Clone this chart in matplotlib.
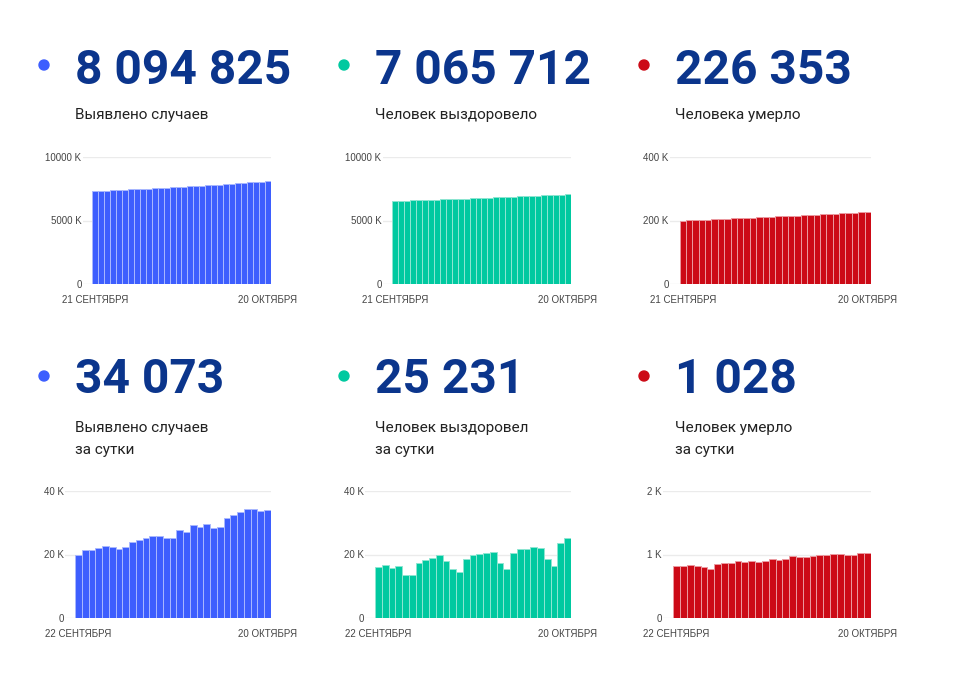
import matplotlib

matplotlib.use("Agg")
import matplotlib.pyplot as plt
from matplotlib.patches import Ellipse

plt.rcParams["font.family"] = ["Roboto", "DejaVu Sans"]

W, H = 967, 675

# headline figures
totals = ["8 094 825", "7 065 712", "226 353"]
daily = ["34 073", "25 231", "1 028"]
total_captions = ["Выявлено случаев", "Человек выздоровело", "Человека умерло"]
daily_captions = ["Выявлено случаев\nза сутки", "Человек выздоровел\nза сутки",
                  "Человек умерло\nза сутки"]

# cumulative, 21 Sep .. 20 Oct (thousands)
cases_total = [7312, 7332, 7353, 7375, 7397, 7419, 7442, 7463, 7486, 7510,
               7534, 7560, 7586, 7611, 7637, 7662, 7689, 7717, 7746, 7775,
               7804, 7833, 7861, 7893, 7925, 7958, 7993, 8027, 8061, 8095]
recovered_total = [6527, 6543, 6559, 6575, 6591, 6605, 6619, 6636, 6654, 6673,
                   6693, 6711, 6726, 6741, 6759, 6779, 6799, 6820, 6841, 6858,
                   6874, 6894, 6916, 6938, 6960, 6982, 7001, 7017, 7041, 7066]
deaths_total = [199.7, 200.6, 201.4, 202.2, 203.0, 203.8, 204.6, 205.5, 206.3, 207.2,
                208.1, 209.0, 209.9, 210.8, 211.7, 212.6, 213.5, 214.4, 215.4, 216.4,
                217.3, 218.3, 219.3, 220.3, 221.3, 222.3, 223.3, 224.3, 225.3, 226.4]

# daily, 22 Sep .. 20 Oct (thousands)
cases_daily = [19.8, 21.4, 21.4, 22.1, 22.6, 22.3, 21.6, 22.5, 24.0, 24.6,
               25.3, 25.9, 25.9, 25.2, 25.2, 27.6, 27.2, 29.4, 28.7, 29.5,
               28.3, 28.8, 31.4, 32.3, 33.3, 34.3, 34.3, 33.8, 34.1]
recovered_daily = [16.1, 16.6, 15.8, 16.3, 13.7, 13.5, 17.4, 18.4, 18.8, 19.9,
                   17.8, 15.4, 14.6, 18.5, 19.8, 20.3, 20.5, 20.9, 17.3, 15.5,
                   20.6, 21.8, 21.7, 22.3, 21.9, 18.7, 16.4, 23.5, 25.2]
deaths_daily = [0.822, 0.822, 0.838, 0.822, 0.801, 0.775, 0.853, 0.864, 0.869, 0.890,
                0.885, 0.895, 0.885, 0.895, 0.927, 0.921, 0.937, 0.974, 0.963, 0.958,
                0.974, 0.990, 0.990, 1.005, 1.005, 1.000, 1.000, 1.021, 1.028]

total_ticks = [[0, 5000, 10000], [0, 5000, 10000], [0, 200, 400]]
total_ticklabels = [["0", "5000 K", "10000 K"], ["0", "5000 K", "10000 K"],
                    ["0", "200 K", "400 K"]]
daily_ticks = [[0, 20, 40], [0, 20, 40], [0, 1, 2]]
daily_ticklabels = [["0", "20 K", "40 K"], ["0", "20 K", "40 K"], ["0", "1 K", "2 K"]]
total_dates = ["21 СЕНТЯБРЯ", "20 ОКТЯБРЯ"]
daily_dates = ["22 СЕНТЯБРЯ", "20 ОКТЯБРЯ"]

colors = ["#3d5efe", "#00c9a0", "#cc0a16"]
edge_colors = ["#a9b8ff", "#8ee6d2", "#eb9aa0"]
num_color = "#0b358c"

fig = plt.figure(figsize=(W / 100, H / 100), dpi=100)


def px(x, y):
    return x / W, 1 - y / H


def dot(x, y, color):
    fig.patches.append(Ellipse(px(x, y), 10 / W, 10 / H, transform=fig.transFigure,
                               color=color))


def bar_panel(left, right, top, bottom, values, ticks, ticklabels, dates, color, edge):
    ax = fig.add_axes([left / W, 1 - bottom / H, (right - left) / W, (bottom - top) / H])
    n = len(values)
    ax.bar(range(n), values, width=1.0, color=color, edgecolor=edge, linewidth=0.7, zorder=2)
    ax.set_xlim(-2.0, n - 0.5)
    ax.set_ylim(0, ticks[-1])
    ax.set_yticks(ticks)
    ax.set_yticklabels(ticklabels, family=["Liberation Sans", "DejaVu Sans"])
    ax.set_xticks([0, n - 1])
    ax.set_xticklabels(dates, family=["Liberation Sans", "DejaVu Sans"])
    ax.tick_params(length=0, labelsize=7, colors="#444444")
    ax.tick_params(axis="y", pad=1)
    ax.tick_params(axis="x", pad=8)
    ax.grid(axis="y", color="#ebebeb", linewidth=1, zorder=0)
    for s in ax.spines.values():
        s.set_visible(False)
    return ax


col_x = [75, 375, 675]
tot_series = [cases_total, recovered_total, deaths_total]
day_series = [cases_daily, recovered_daily, deaths_daily]
top_lefts = [83, 383, 670]
bot_lefts = [65, 365, 663]
rights = [271, 571, 871]

for i in range(3):
    x0 = col_x[i]
    # top block
    dot(x0 - 31, 65, colors[i])
    fig.text(*px(x0, 84), totals[i], fontsize=34.5, fontweight="bold", color=num_color,
             va="baseline")
    fig.text(*px(x0, 119), total_captions[i], fontsize=11, color="#222222", va="baseline")
    bar_panel(top_lefts[i], rights[i], 157, 284, tot_series[i], total_ticks[i],
              total_ticklabels[i], total_dates, colors[i], edge_colors[i])

    # bottom block
    dot(x0 - 31, 376, colors[i])
    fig.text(*px(x0, 393), daily[i], fontsize=34.5, fontweight="bold", color=num_color,
             va="baseline")
    first, second = daily_captions[i].split("\n")
    fig.text(*px(x0, 432), first, fontsize=11, color="#222222", va="baseline")
    fig.text(*px(x0, 454), second, fontsize=11, color="#222222", va="baseline")
    bar_panel(bot_lefts[i], rights[i], 491, 618, day_series[i], daily_ticks[i],
              daily_ticklabels[i], daily_dates, colors[i], edge_colors[i])

fig.savefig("out.png", dpi=100)
